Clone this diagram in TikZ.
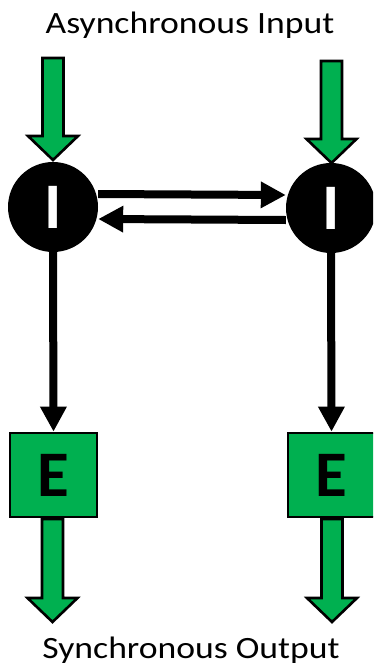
\documentclass[tikz,border=0pt]{standalone}
\usepackage{fontspec}
\setmainfont{Carlito}
\usetikzlibrary{arrows.meta}
\definecolor{officegreen}{HTML}{00B050}
\tikzset{
  blockarr/.style={draw=black, line width=2.6pt, fill=officegreen, line join=miter},
  inode/.style={circle, fill=black, minimum size=90pt, inner sep=0pt, text=white,
     font=\fontsize{65}{65}\selectfont\bfseries},
  ebox/.style={rectangle, draw=black, line width=2.6pt, fill=officegreen, minimum width=87pt,
     minimum height=84pt, inner sep=0pt, font=\fontsize{65}{65}\selectfont\bfseries},
  conn/.style={draw=black, line width=8pt, -{Triangle[length=25pt,width=25pt]}, shorten >=0pt},
  label/.style={font=\fontsize{31}{31}\selectfont, xscale=1.15, inner sep=0pt}
}
\newcommand{\blkarrow}[3]{%
  \draw[blockarr] (#1-10.5,-#2) -- (#1+10.5,-#2) -- (#1+10.5,-#3+24) -- (#1+25,-#3+24)
    -- (#1,-#3) -- (#1-25,-#3+24) -- (#1-10.5,-#3+24) -- cycle;}
\begin{document}
\begin{tikzpicture}[x=1pt,y=1pt]
\useasboundingbox (0,0) rectangle (373,-670);
\clip (0,0) rectangle (373,-670);
\node[label, anchor=base] (tin) at (190,-33) {Asynchronous Input};
\node[label, anchor=base] (tout) at (191,-658) {Synchronous Output};
\node[inode] (i1) at (53,-207) {I};
\node[inode] (i2) at (331,-208) {I};
\node[ebox] (e1) at (53.5,-475) {E};
\node[ebox] (e2) at (331.5,-475) {E};
% input block arrows
\blkarrow{53}{58}{160}
\blkarrow{331.5}{61}{163}
% output block arrows
\blkarrow{52.5}{519}{622}
\blkarrow{332}{519}{622}
% connectors
\draw[conn] ([yshift=13pt]i1.east) -- ([yshift=13pt]i2.west);
\draw[conn] ([yshift=-12pt]i2.west) -- ([yshift=-12pt]i1.east);
\draw[conn] (i1.south) -- (e1.north);
\draw[conn] (i2.south) -- (e2.north);
\end{tikzpicture}
\end{document}
